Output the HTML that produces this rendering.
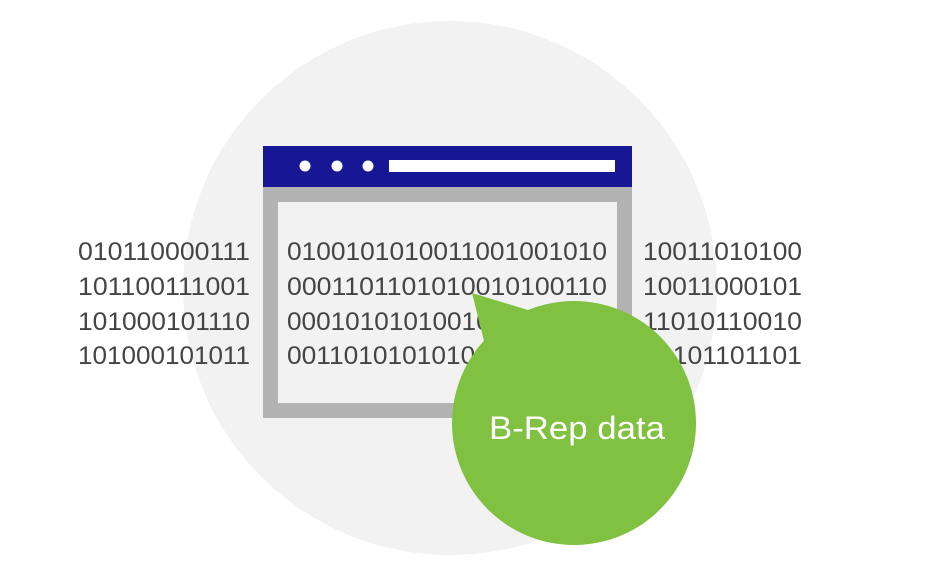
<!DOCTYPE html>
<html><head><meta charset="utf-8"><style>html,body{margin:0;padding:0;background:#fff}</style></head>
<body>
<svg width="944" height="570" viewBox="0 0 944 570" xmlns="http://www.w3.org/2000/svg" font-family="'Liberation Sans', sans-serif">
<circle cx="450" cy="288" r="267" fill="#f2f2f2"/>
<rect x="263" y="146" width="369" height="41" fill="#171796"/>
<circle cx="305" cy="166" r="5.5" fill="#fff"/>
<circle cx="337" cy="166" r="5.5" fill="#fff"/>
<circle cx="368" cy="166" r="5.5" fill="#fff"/>
<rect x="389" y="160" width="226" height="12" fill="#fff"/>
<rect x="270.5" y="194.5" width="354" height="216" fill="none" stroke="#b3b3b3" stroke-width="15"/>
<g font-size="25" fill="#444" lengthAdjust="spacingAndGlyphs">
<text x="78" y="260" textLength="172" lengthAdjust="spacingAndGlyphs">010110000111</text>
<text x="78" y="295" textLength="172" lengthAdjust="spacingAndGlyphs">101100111001</text>
<text x="78" y="330" textLength="172" lengthAdjust="spacingAndGlyphs">101000101110</text>
<text x="78" y="364" textLength="172" lengthAdjust="spacingAndGlyphs">101000101011</text>
<text x="287" y="260" textLength="320" lengthAdjust="spacingAndGlyphs">0100101010011001001010</text>
<text x="287" y="295" textLength="320" lengthAdjust="spacingAndGlyphs">0001101101010010100110</text>
<text x="287" y="330" textLength="320" lengthAdjust="spacingAndGlyphs">0001010101001010101010</text>
<text x="287" y="364" textLength="320" lengthAdjust="spacingAndGlyphs">0011010101010101010101</text>
<text x="643" y="260" textLength="159" lengthAdjust="spacingAndGlyphs">10011010100</text>
<text x="643" y="295" textLength="159" lengthAdjust="spacingAndGlyphs">10011000101</text>
<text x="643" y="330" textLength="159" lengthAdjust="spacingAndGlyphs">11010110010</text>
<text x="643" y="364" textLength="159" lengthAdjust="spacingAndGlyphs">10101101101</text>
</g>
<path d="M472 293 L528 310 L495 385 Z" fill="#80c141"/>
<circle cx="574" cy="423" r="122" fill="#80c141"/>
<text x="489" y="439" font-size="32" fill="#fff" textLength="176" lengthAdjust="spacingAndGlyphs">B-Rep data</text>
</svg>
</body></html>
